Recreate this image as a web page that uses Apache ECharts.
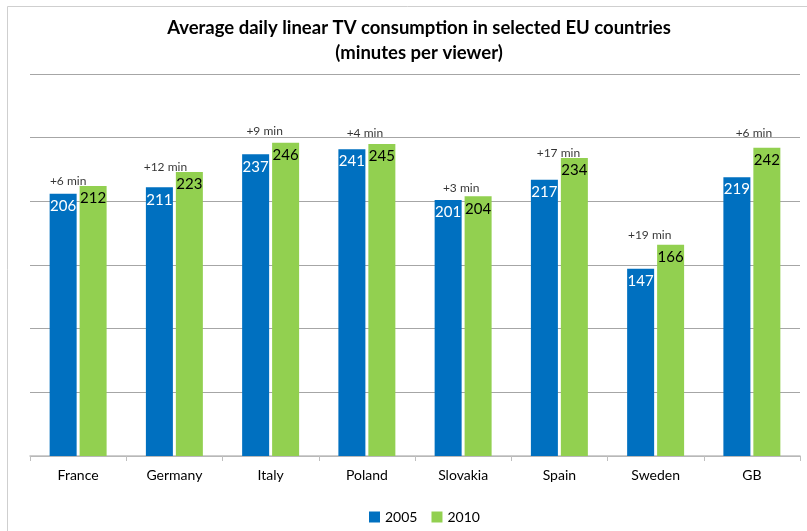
<!DOCTYPE html>
<html>
<head>
<meta charset="utf-8">
<script src="https://cdn.jsdelivr.net/npm/echarts@6/dist/echarts.min.js"></script>
<style>
  html, body { margin: 0; padding: 0; background: #ffffff; }
  #chart { width: 807px; height: 531px; }
</style>
</head>
<body>
<div id="chart"></div>
<script>
// Average daily viewing time, minutes per viewer
const countries = ['France', 'Germany', 'Italy', 'Poland', 'Slovakia', 'Spain', 'Sweden', 'GB'];
const minutes2005 = [206, 211, 237, 241, 201, 217, 147, 219];
const minutes2010 = [212, 223, 246, 245, 204, 234, 166, 242];
// Change annotations as printed above each pair
const changeLabels = ['+6 min', '+12 min', '+9 min', '+4 min', '+3 min', '+17 min', '+19 min', '+6 min'];
const yTicks = [0, 50, 100, 150, 200, 250, 300];

// Small nudges [dx, dy] for the change annotations
const noteNudge = [[-10, 1], [-9, 1], [-6, -6], [-2, -5], [-2, -2], [-1, 1], [-6, -4], [2, -9]];

const FONT = 'Lato, "Open Sans", sans-serif';
const chart = echarts.init(document.getElementById('chart'), null, { renderer: 'canvas' });

chart.setOption({
  animation: false,
  backgroundColor: '#ffffff',
  textStyle: { fontFamily: FONT },
  graphic: [{
    type: 'rect',
    shape: { x: 7.5, y: 6.5, width: 900, height: 600 },
    style: { fill: 'none', stroke: '#cfcfcf', lineWidth: 1 },
    silent: true
  }],
  title: {
    text: 'Average daily linear TV consumption in selected EU countries\n(minutes per viewer)',
    left: 414,
    textAlign: 'center',
    top: 11,
    textStyle: { fontFamily: FONT, fontWeight: 'bold', fontSize: 18.5, color: '#000000', lineHeight: 25 }
  },
  legend: {
    bottom: 2,
    left: 364,
    itemWidth: 11,
    itemHeight: 11,
    itemGap: 14,
    icon: 'rect',
    textStyle: { fontFamily: FONT, fontSize: 14, color: '#000000' },
    data: ['2005', '2010']
  },
  grid: { left: 30, right: 7, top: 74, bottom: 75, containLabel: false },
  xAxis: {
    type: 'category',
    data: countries,
    axisLine: { lineStyle: { color: '#bfbfbf', width: 1.5 } },
    axisTick: { show: true, length: 5, lineStyle: { color: '#bfbfbf' } },
    axisLabel: { fontFamily: FONT, fontSize: 14, color: '#000000', margin: 12 }
  },
  yAxis: {
    type: 'value',
    min: yTicks[0],
    max: yTicks[yTicks.length - 1],
    interval: yTicks[1] - yTicks[0],
    axisLine: { show: false },
    axisTick: { show: false },
    axisLabel: { show: false },
    splitLine: { lineStyle: { color: '#a6a6a6', width: 1 } }
  },
  series: [
    {
      name: '2005',
      type: 'bar',
      data: minutes2005,
      barWidth: 27,
      barGap: '11%',
      itemStyle: { color: '#0070C0' },
      label: {
        show: true, position: 'insideTop', distance: 5,
        color: '#ffffff', fontFamily: FONT, fontSize: 15
      }
    },
    {
      name: '2010',
      type: 'bar',
      data: minutes2010,
      barWidth: 27,
      barGap: '11%',
      itemStyle: { color: '#92D050' },
      label: {
        show: true, position: 'insideTop', distance: 5,
        color: '#000000', fontFamily: FONT, fontSize: 15
      }
    },
    {
      name: 'change',
      type: 'scatter',
      symbolSize: 0,
      silent: true,
      data: minutes2010.map((v, i) => ({
        value: v,
        label: {
          show: true,
          position: 'top',
          distance: 0,
          offset: noteNudge[i],
          formatter: changeLabels[i],
          fontFamily: FONT,
          fontSize: 12,
          color: '#000000'
        }
      }))
    }
  ]
});
</script>
</body>
</html>
